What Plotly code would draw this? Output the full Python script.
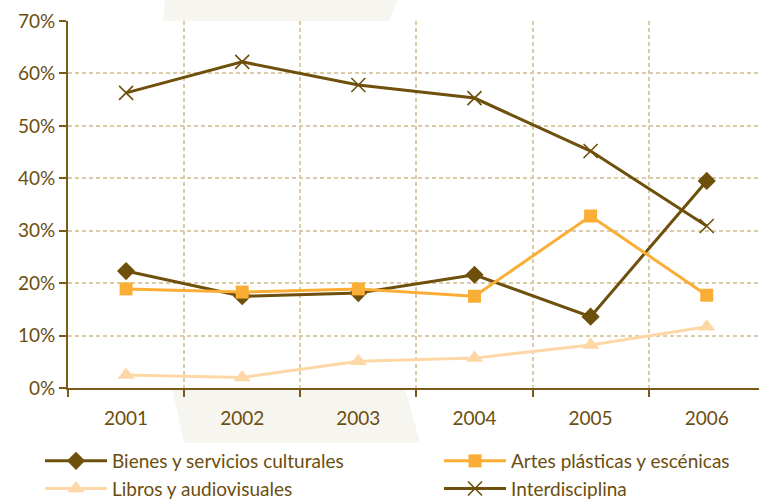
import plotly.graph_objects as go

years = ["2001", "2002", "2003", "2004", "2005", "2006"]
bienes = [22.3, 17.5, 18.1, 21.6, 13.6, 39.5]
artes = [18.9, 18.3, 18.9, 17.5, 32.8, 17.7]
libros = [2.5, 2.0, 5.1, 5.7, 8.2, 11.7]
interdisciplina = [56.3, 62.2, 57.8, 55.3, 45.2, 30.9]

series_names = [
    "Bienes y servicios culturales",
    "Artes plásticas y escénicas",
    "Libros y audiovisuales",
    "Interdisciplina",
]

BROWN = "#6E4F0B"
ORANGE = "#FBAE35"
PEACH = "#FDD8A6"
TEXT = "#6B4E10"
GRID = "#DCCBA8"
BAND = "#F7F5EF"

W, H = 759, 499
L, R, T, B = 68, 0, 21, 111
pw, ph = W - L - R, H - T - B


def px(x):
    return (x - L) / pw


def py(y):
    return (H - B - y) / ph


fig = go.Figure()

# (values, colour, symbol, size, legend column)
styles = [
    (bienes, BROWN, "diamond", 14, "legend"),
    (artes, ORANGE, "square", 13, "legend2"),
    (libros, PEACH, "triangle-up", 15, "legend"),
    (interdisciplina, BROWN, "x-thin-open", 14, "legend2"),
]
for name, (vals, col, sym, size, leg) in zip(series_names, styles):
    marker = dict(symbol=sym, size=size, color=col)
    if sym == "x-thin-open":
        marker["line"] = dict(color=col, width=1.6)
    fig.add_trace(
        go.Scatter(
            x=years,
            y=vals,
            name=name,
            legend=leg,
            legendgroup=name,
            mode="lines+markers",
            line=dict(color=col, width=3),
            marker=marker,
        )
    )

# light decorative band behind the chart, visible above and below the plot area
band_top = f"M {px(165)} {py(0)} L {px(398)} {py(0)} L {px(389)} {py(21)} L {px(163)} {py(21)} Z"
band_bot = f"M {px(172)} {py(388)} L {px(405)} {py(388)} L {px(420)} {py(443)} L {px(184)} {py(443)} Z"
shapes = [
    dict(type="path", path=p, xref="paper", yref="paper", fillcolor=BAND,
         line=dict(width=0), layer="below")
    for p in (band_top, band_bot)
]

legend_common = dict(
    orientation="v",
    xanchor="left",
    y=py(442),
    yanchor="top",
    itemwidth=62,
    tracegroupgap=0,
    traceorder="grouped",
    font=dict(size=19, color=TEXT),
    bgcolor="rgba(0,0,0,0)",
    itemclick=False,
)

axis_common = dict(
    showgrid=True,
    gridcolor=GRID,
    griddash="4px,3px",
    gridwidth=1.5,
    showline=True,
    linecolor="#7A5C1A",
    linewidth=2,
    ticks="outside",
    ticklen=7,
    tickwidth=1.5,
    tickcolor="#7A5C1A",
    tickfont=dict(size=19, color=TEXT),
    fixedrange=True,
)

fig.update_layout(
    width=W,
    height=H,
    margin=dict(l=L, r=R, t=T, b=B, autoexpand=False),
    paper_bgcolor="white",
    plot_bgcolor="white",
    font=dict(family="Lato, 'Open Sans', sans-serif", size=19, color=TEXT),
    shapes=shapes,
    showlegend=True,
    legend=dict(x=px(40), **legend_common),
    legend2=dict(x=px(439), **legend_common),
    xaxis=dict(
        type="category",
        range=[-0.5, 5.45],
        tickson="boundaries",
        ticklabelstandoff=12,
        **axis_common,
    ),
    yaxis=dict(
        range=[0, 70],
        dtick=10,
        ticksuffix="%",
        zeroline=False,
        **axis_common,
    ),
)

fig.write_html("out.html", config={"displayModeBar": False})
